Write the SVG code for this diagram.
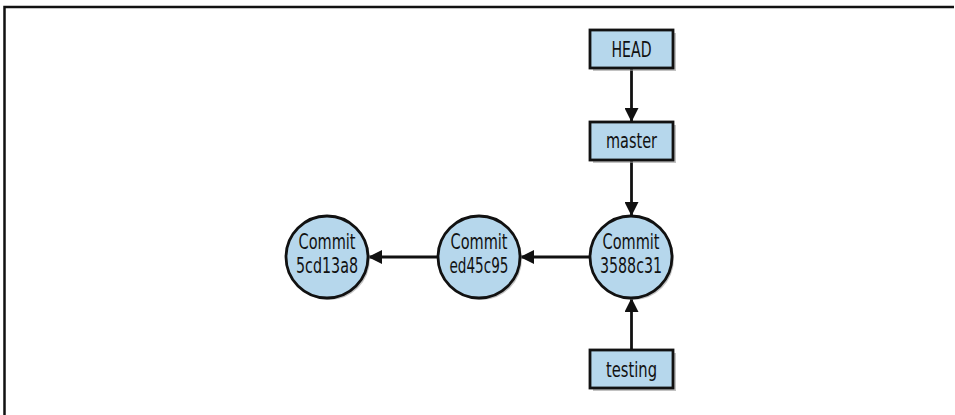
<svg xmlns="http://www.w3.org/2000/svg" width="955" height="415" viewBox="0 0 955 415">
<defs>
<style>
.n{fill:#b6d7ec;stroke:#111;stroke-width:2.8}
.sh{fill:#999;opacity:0.6}
.t{font-family:"DejaVu Sans Condensed","Liberation Sans Narrow","Liberation Sans",sans-serif;font-size:22px;fill:#111;text-anchor:middle}
.c{stroke:#111;stroke-width:2.8;fill:none;marker-end:url(#ah)}
</style>
<marker id="ah" viewBox="0 0 14 14" refX="14" refY="7" markerWidth="14" markerHeight="14" markerUnits="userSpaceOnUse" orient="auto">
<path d="M0,0 L14,7 L0,14 z" fill="#111"/>
</marker>
</defs>
<rect width="955" height="415" fill="#fff"/>
<path d="M4.5,415 V7 H954" fill="none" stroke="#111" stroke-width="2.5"/>
<g id="connectors">
<line class="c" x1="631.5" y1="68" x2="631.5" y2="122"/>
<line class="c" x1="631.5" y1="160" x2="631.5" y2="216"/>
<line class="c" x1="631.5" y1="350" x2="631.5" y2="298"/>
<line class="c" x1="590" y1="257" x2="520" y2="257"/>
<line class="c" x1="438" y1="257" x2="368" y2="257"/>
</g>
<g id="head">
<rect class="sh" x="593" y="33" width="83" height="38"/>
<rect class="n" x="590" y="30" width="83" height="38"/>
<text class="t" x="631.5" y="57" textLength="40" lengthAdjust="spacingAndGlyphs">HEAD</text>
</g>
<g id="master">
<rect class="sh" x="593" y="125" width="83" height="38"/>
<rect class="n" x="590" y="122" width="83" height="38"/>
<text class="t" x="631.5" y="148" textLength="51" lengthAdjust="spacingAndGlyphs">master</text>
</g>
<g id="testing">
<rect class="sh" x="593" y="353" width="83" height="38"/>
<rect class="n" x="590" y="350" width="83" height="38"/>
<text class="t" x="631.5" y="377" textLength="51" lengthAdjust="spacingAndGlyphs">testing</text>
</g>
<g id="c3588c31">
<circle class="sh" cx="633" cy="259" r="41"/>
<circle class="n" cx="631" cy="257" r="41"/>
<text class="t" x="631" y="249" textLength="57" lengthAdjust="spacingAndGlyphs">Commit</text>
<text class="t" x="631" y="273" textLength="62" lengthAdjust="spacingAndGlyphs">3588c31</text>
</g>
<g id="ced45c95">
<circle class="sh" cx="481" cy="259" r="41"/>
<circle class="n" cx="479" cy="257" r="41"/>
<text class="t" x="479" y="249" textLength="57" lengthAdjust="spacingAndGlyphs">Commit</text>
<text class="t" x="479" y="273" textLength="59" lengthAdjust="spacingAndGlyphs">ed45c95</text>
</g>
<g id="c5cd13a8">
<circle class="sh" cx="329" cy="259" r="41"/>
<circle class="n" cx="327" cy="257" r="41"/>
<text class="t" x="327" y="249" textLength="57" lengthAdjust="spacingAndGlyphs">Commit</text>
<text class="t" x="327" y="273" textLength="62" lengthAdjust="spacingAndGlyphs">5cd13a8</text>
</g>
</svg>
